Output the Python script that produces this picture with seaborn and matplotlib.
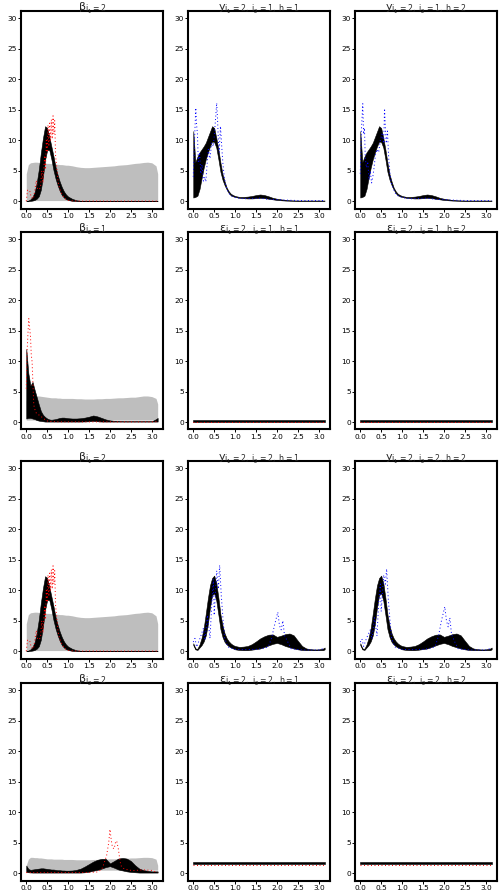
import matplotlib
matplotlib.use('Agg')
import matplotlib.pyplot as plt
import seaborn as sns

sns.set_style('white')
plt.rcParams['font.family'] = ['DejaVu Sans']
plt.rcParams['mathtext.fontset'] = 'dejavusans'
plt.rcParams['mathtext.default'] = 'regular'

# ---- data ----
# common frequency grid for the bands
X_BAND = [0.0, 0.05, 0.1, 0.15, 0.2, 0.25, 0.3, 0.35, 0.4, 0.45, 0.5, 0.55, 0.6, 0.65, 0.7, 0.75, 0.8, 0.85, 0.9, 0.95, 1.0,
          1.1, 1.2, 1.3, 1.4, 1.5, 1.6, 1.7, 1.8, 1.9, 2.0, 2.1, 2.2, 2.3, 2.4, 2.5, 2.6, 2.7, 2.8, 2.9, 3.0, 3.1,
          3.14]

# beta_{i1=2}
A_HI = [0.0, 0.1, 0.3, 0.7, 1.5, 3.0, 5.2, 8.0, 10.4, 12.3, 12.0, 10.6, 9.0, 7.4, 5.6, 4.3, 3.2, 2.3, 1.6, 1.1, 0.76,
        0.38, 0.15, 0.06, 0.03, 0.03, 0.03, 0.03, 0.03, 0.03, 0.03, 0.03, 0.03, 0.03, 0.03, 0.03, 0.03, 0.03, 0.03, 0.03, 0.03, 0.03,
        0.03]
A_LO = [0.0, 0.02, 0.05, 0.1, 0.2, 0.4, 0.8, 1.9, 4.1, 6.8, 8.4, 8.4, 6.9, 5.1, 3.7, 2.6, 1.7, 1.0, 0.6, 0.35, 0.2,
        0.05, 0.01, 0.01, 0.01, 0.01, 0.01, 0.01, 0.01, 0.01, 0.01, 0.01, 0.01, 0.01, 0.01, 0.01, 0.01, 0.01, 0.01, 0.01, 0.01, 0.01,
        0.01]
A_GRAY_HI = [4.5, 6.0, 6.3, 6.35, 6.4, 6.4, 6.35, 6.3, 6.3, 6.25, 6.2, 6.2, 6.15, 6.1, 6.1, 6.05, 6.0, 6.0, 5.95, 5.9, 5.9,
             5.8, 5.65, 5.55, 5.5, 5.5, 5.55, 5.6, 5.65, 5.7, 5.75, 5.8, 5.9, 5.95, 6.0, 6.1, 6.2, 6.25, 6.35, 6.4, 6.3, 5.8,
             4.5]
A_GRAY_LO = 0.1
RED_A_X = [0.0, 0.03, 0.08, 0.12, 0.17, 0.2, 0.24, 0.27, 0.3, 0.34, 0.37, 0.4, 0.42, 0.44, 0.46, 0.48, 0.5, 0.52, 0.54, 0.56,
           0.58, 0.6, 0.62, 0.64, 0.66, 0.68, 0.7, 0.73, 0.76, 0.8, 0.85, 0.9, 0.95, 1.0, 1.1, 1.2, 1.5, 2.0, 2.5, 3.0, 3.14]
RED_A_Y = [0.0, 1.8, 1.8, 0.6, 0.4, 1.6, 3.4, 2.0, 1.9, 2.2, 5.0, 3.0, 5.5, 7.5, 5.2, 10.0, 8.0, 12.5, 9.0, 12.8,
           10.0, 13.4, 10.2, 14.0, 11.0, 13.2, 7.5, 5.5, 3.2, 2.0, 1.2, 0.6, 0.3, 0.15, 0.05, 0.02, 0.02, 0.02, 0.02, 0.02, 0.02]

# beta_{i2=1}
B_HI = [12.0, 8.0, 6.0, 6.6, 5.3, 4.1, 2.9, 1.8, 1.2, 0.85, 0.6, 0.45, 0.4, 0.45, 0.5, 0.6, 0.7, 0.75, 0.75, 0.7, 0.65,
        0.6, 0.6, 0.65, 0.75, 0.9, 1.1, 0.95, 0.7, 0.45, 0.3, 0.22, 0.18, 0.15, 0.15, 0.15, 0.15, 0.15, 0.15, 0.15, 0.15, 0.5,
        0.7]
B_LO = [0.6, 0.7, 0.7, 0.6, 0.5, 0.35, 0.25, 0.2, 0.15, 0.1, 0.1, 0.1, 0.1, 0.1, 0.1, 0.1, 0.1, 0.1, 0.1, 0.1, 0.1,
        0.1, 0.1, 0.1, 0.12, 0.15, 0.2, 0.15, 0.1, 0.1, 0.1, 0.1, 0.1, 0.1, 0.1, 0.1, 0.1, 0.1, 0.1, 0.1, 0.1, 0.1,
        0.1]
B_GRAY_HI = [3.5, 4.2, 4.3, 4.3, 4.3, 4.3, 4.3, 4.25, 4.2, 4.15, 4.1, 4.05, 4.0, 4.0, 4.0, 3.95, 3.95, 3.9, 3.9, 3.9, 3.9,
             3.9, 3.85, 3.85, 3.8, 3.8, 3.8, 3.85, 3.85, 3.9, 3.9, 3.95, 4.0, 4.0, 4.05, 4.1, 4.1, 4.2, 4.3, 4.3, 4.2, 3.9,
             3.0]
B_GRAY_LO = 0.35
RED_B_X = [0.0, 0.02, 0.04, 0.06, 0.08, 0.1, 0.12, 0.14, 0.16, 0.18, 0.21, 0.24, 0.28, 0.32, 0.36, 0.4, 0.45, 0.5, 0.6,
           0.8, 1.0, 1.5, 2.0, 2.5, 3.0, 3.14]
RED_B_Y = [5.5, 11.5, 14.5, 17.0, 15.5, 14.2, 11.0, 9.9, 6.1, 2.8, 2.0, 1.5, 1.3, 1.1, 0.9, 0.7, 0.4, 0.2, 0.1,
           0.05, 0.05, 0.05, 0.05, 0.05, 0.05, 0.1]

# y_{i1=2, i2=1}
C_HI = [11.5, 6.4, 7.3, 8.0, 8.5, 9.0, 9.6, 10.5, 11.4, 12.3, 12.0, 10.4, 8.5, 6.3, 4.4, 3.2, 2.2, 1.6, 1.2, 1.0, 0.85,
        0.7, 0.7, 0.75, 0.85, 1.0, 1.1, 1.0, 0.8, 0.55, 0.4, 0.3, 0.2, 0.15, 0.12, 0.1, 0.1, 0.1, 0.1, 0.1, 0.1, 0.1,
        0.1]
C_LO = [0.6, 0.7, 0.9, 2.0, 3.8, 5.5, 6.9, 8.0, 9.0, 9.8, 9.7, 8.8, 6.9, 4.8, 3.5, 2.6, 1.9, 1.3, 0.95, 0.8, 0.7,
        0.55, 0.5, 0.45, 0.45, 0.5, 0.55, 0.5, 0.4, 0.3, 0.2, 0.15, 0.1, 0.08, 0.08, 0.08, 0.08, 0.08, 0.08, 0.08, 0.08, 0.08,
        0.08]
BLUE_C_X = [0.0, 0.03, 0.06, 0.08, 0.1, 0.12, 0.15, 0.18, 0.21, 0.24, 0.27, 0.3, 0.33, 0.36, 0.4, 0.44, 0.48, 0.52, 0.56, 0.58,
            0.6, 0.62, 0.65, 0.68, 0.71, 0.74, 0.78, 0.84, 0.9, 1.0, 1.2, 1.4, 1.6, 1.8, 2.0, 2.3, 2.6, 3.0, 3.14]
BLUE_C_H1 = [4.0, 10.0, 15.3, 12.5, 11.0, 6.5, 8.0, 4.5, 6.0, 3.3, 4.0, 3.2, 6.0, 8.5, 7.0, 9.6, 9.0, 12.3, 16.1, 13.4,
             10.0, 8.0, 12.3, 9.0, 6.0, 4.0, 2.5, 1.4, 0.9, 0.6, 0.4, 0.45, 0.5, 0.3, 0.25, 0.15, 0.1, 0.1, 0.1]
BLUE_C_H2 = [4.5, 12.0, 16.0, 11.0, 12.0, 7.0, 5.5, 6.5, 3.5, 5.0, 3.0, 4.0, 5.5, 7.5, 8.5, 8.0, 10.0, 11.0, 9.5, 15.2,
             12.0, 9.5, 11.5, 7.0, 4.5, 3.0, 2.2, 1.3, 0.9, 0.6, 0.4, 0.45, 0.5, 0.3, 0.25, 0.15, 0.1, 0.1, 0.1]

# y_{i1=2, i2=2}
D_HI = [1.3, 0.45, 0.4, 1.1, 2.2, 3.8, 6.2, 8.7, 10.8, 12.0, 12.4, 11.2, 8.8, 6.0, 4.2, 2.9, 2.1, 1.6, 1.25, 1.0, 0.85,
        0.7, 0.75, 0.85, 1.15, 1.6, 2.1, 2.45, 2.7, 2.75, 2.35, 2.55, 2.8, 2.9, 2.6, 1.7, 0.85, 0.45, 0.33, 0.28, 0.3, 0.43,
        0.6]
D_LO = [1.0, 0.3, 0.2, 0.6, 1.0, 1.6, 2.6, 4.5, 7.2, 9.2, 9.5, 8.3, 6.0, 3.6, 2.3, 1.5, 1.1, 0.8, 0.6, 0.45, 0.3,
        0.2, 0.16, 0.16, 0.25, 0.35, 0.45, 0.7, 0.95, 1.2, 1.35, 1.15, 0.85, 0.65, 0.45, 0.3, 0.2, 0.16, 0.16, 0.16, 0.16, 0.16,
        0.3]
BLUE_D_X = [0.0, 0.04, 0.08, 0.16, 0.24, 0.28, 0.34, 0.4, 0.44, 0.48, 0.5, 0.56, 0.6, 0.63, 0.67, 0.71, 0.75, 0.83, 1.0, 1.2,
            1.5, 1.7, 1.79, 1.87, 1.94, 2.02, 2.06, 2.1, 2.14, 2.18, 2.26, 2.34, 2.6, 3.0, 3.14]
BLUE_D_H1 = [1.5, 2.1, 0.7, 2.1, 3.7, 1.8, 5.9, 2.1, 7.5, 11.8, 5.9, 13.2, 10.2, 14.1, 9.1, 5.3, 2.1, 0.7, 0.3, 0.25,
             0.3, 0.5, 0.7, 2.1, 4.2, 6.4, 4.2, 3.5, 5.0, 2.6, 1.5, 0.4, 0.2, 0.2, 0.5]
BLUE_D_H2 = [1.5, 2.0, 0.8, 2.3, 3.5, 2.0, 5.5, 2.5, 8.0, 11.0, 6.5, 12.5, 11.0, 13.5, 8.5, 5.0, 2.0, 0.7, 0.3, 0.25,
             0.3, 0.5, 0.8, 2.5, 5.0, 7.3, 5.0, 4.0, 5.5, 2.8, 1.5, 0.4, 0.2, 0.2, 0.5]

# beta_{i2=2}
E_HI = [1.25, 0.7, 0.55, 0.6, 0.65, 0.7, 0.75, 0.8, 0.8, 0.75, 0.7, 0.65, 0.6, 0.6, 0.55, 0.5, 0.5, 0.45, 0.45, 0.43, 0.43,
        0.45, 0.55, 0.75, 1.1, 1.5, 1.9, 2.2, 2.35, 2.35, 1.6, 2.0, 2.4, 2.5, 2.4, 2.0, 1.3, 0.75, 0.5, 0.4, 0.3, 0.3,
        0.3]
E_LO = [0.2, 0.15, 0.12, 0.1, 0.1, 0.1, 0.1, 0.1, 0.1, 0.1, 0.1, 0.1, 0.1, 0.1, 0.1, 0.1, 0.1, 0.1, 0.1, 0.1, 0.1,
        0.1, 0.1, 0.1, 0.15, 0.25, 0.4, 0.55, 0.75, 1.0, 1.15, 0.9, 0.6, 0.45, 0.3, 0.2, 0.15, 0.1, 0.1, 0.1, 0.1, 0.1,
        0.1]
E_GRAY_HI = [1.3, 2.3, 2.6, 2.6, 2.55, 2.55, 2.5, 2.5, 2.45, 2.4, 2.35, 2.35, 2.35, 2.3, 2.3, 2.3, 2.3, 2.3, 2.25, 2.25, 2.25,
             2.25, 2.2, 2.2, 2.2, 2.2, 2.25, 2.25, 2.3, 2.3, 2.35, 2.35, 2.4, 2.45, 2.45, 2.5, 2.5, 2.55, 2.6, 2.6, 2.55, 2.3,
             1.3]
E_GRAY_LO = 0.5
RED_E_X = [0.0, 0.5, 1.0, 1.5, 1.7, 1.8, 1.84, 1.92, 1.97, 2.0, 2.03, 2.06, 2.1, 2.13, 2.16, 2.2, 2.23, 2.26, 2.32, 2.45,
           2.56, 2.7, 2.8, 3.0, 3.14]
RED_E_Y = [0.1, 0.1, 0.1, 0.12, 0.2, 0.6, 1.25, 2.9, 5.0, 7.2, 5.5, 4.2, 4.0, 5.0, 5.3, 4.0, 2.5, 1.25, 0.8, 0.5,
           0.43, 0.5, 0.54, 0.45, 0.1]

# epsilon panels (flat)
EPS_X = [0.0, 3.14]
EPS1_LO = [0.02, 0.02]
EPS1_HI = [0.3, 0.3]
EPS1_RED = [0.02, 0.02]
EPS2_LO = [1.45, 1.45]
EPS2_HI = [1.85, 1.85]
EPS2_RED = [1.3, 1.3]

TITLES = [
    [r'$\beta_{i_1=2}$', r'$y_{i_1=2,\ i_2=1,\ h=1}$', r'$y_{i_1=2,\ i_2=1,\ h=2}$'],
    [r'$\beta_{i_2=1}$', r'$\varepsilon_{i_1=2,\ i_2=1,\ h=1}$', r'$\varepsilon_{i_1=2,\ i_2=1,\ h=2}$'],
    [r'$\beta_{i_1=2}$', r'$y_{i_1=2,\ i_2=2,\ h=1}$', r'$y_{i_1=2,\ i_2=2,\ h=2}$'],
    [r'$\beta_{i_2=2}$', r'$\varepsilon_{i_1=2,\ i_2=2,\ h=1}$', r'$\varepsilon_{i_1=2,\ i_2=2,\ h=2}$'],
]

GRAY = '#BEBEBE'

# ---- layout (pixel boxes) ----
W, H = 502, 893
COL_LEFT = [21, 188, 355]
ROW_TOP = [11, 232, 461, 683]
BOX_W, BOX_H = 142, 197.5

fig = plt.figure(figsize=(W / 100, H / 100), dpi=100)
axes = []
for r in range(4):
    row = []
    for c in range(3):
        ax = fig.add_axes([COL_LEFT[c] / W, 1 - (ROW_TOP[r] + BOX_H) / H, BOX_W / W, BOX_H / H])
        row.append(ax)
    axes.append(row)


def band(ax, lo, hi, x=X_BAND, gray_lo=None, gray_hi=None):
    if gray_hi is not None:
        ax.fill_between(x, gray_lo, gray_hi, color=GRAY, lw=0, zorder=1)
    ax.fill_between(x, lo, hi, color='black', lw=0.4, edgecolor='black', zorder=2)


def dotted(ax, x, y, color):
    sns.lineplot(x=x, y=y, ax=ax, color=color, lw=0.7, zorder=3,
                 dashes=False, linestyle=(0, (1, 2.6)))


# row 1
band(axes[0][0], A_LO, A_HI, gray_lo=A_GRAY_LO, gray_hi=A_GRAY_HI)
dotted(axes[0][0], RED_A_X, RED_A_Y, 'red')
band(axes[0][1], C_LO, C_HI)
dotted(axes[0][1], BLUE_C_X, BLUE_C_H1, 'blue')
band(axes[0][2], C_LO, C_HI)
dotted(axes[0][2], BLUE_C_X, BLUE_C_H2, 'blue')

# row 2
band(axes[1][0], B_LO, B_HI, gray_lo=B_GRAY_LO, gray_hi=B_GRAY_HI)
dotted(axes[1][0], RED_B_X, RED_B_Y, 'red')
for c in (1, 2):
    band(axes[1][c], EPS1_LO, EPS1_HI, x=EPS_X)
    dotted(axes[1][c], EPS_X, EPS1_RED, 'red')

# row 3
band(axes[2][0], A_LO, A_HI, gray_lo=A_GRAY_LO, gray_hi=A_GRAY_HI)
dotted(axes[2][0], RED_A_X, RED_A_Y, 'red')
band(axes[2][1], D_LO, D_HI)
dotted(axes[2][1], BLUE_D_X, BLUE_D_H1, 'blue')
band(axes[2][2], D_LO, D_HI)
dotted(axes[2][2], BLUE_D_X, BLUE_D_H2, 'blue')

# row 4
band(axes[3][0], E_LO, E_HI, gray_lo=E_GRAY_LO, gray_hi=E_GRAY_HI)
dotted(axes[3][0], RED_E_X, RED_E_Y, 'red')
for c in (1, 2):
    band(axes[3][c], EPS2_LO, EPS2_HI, x=EPS_X)
    dotted(axes[3][c], EPS_X, EPS2_RED, 'red')

# cosmetics
for r in range(4):
    for c in range(3):
        ax = axes[r][c]
        ax.set_xlim(-0.1257, 3.2673)
        ax.set_ylim(-1.2, 31.2)
        ax.set_xticks([0, 0.5, 1, 1.5, 2, 2.5, 3])
        ax.set_xticklabels(['0.0', '0.5', '1.0', '1.5', '2.0', '2.5', '3.0'])
        ax.set_yticks([0, 5, 10, 15, 20, 25, 30])
        ax.set_xlabel('')
        ax.set_ylabel('')
        ax.tick_params(direction='out', length=2.4, width=0.7, pad=0.6,
                       labelsize=5.3, colors='black', bottom=True, left=True)
        for s in ax.spines.values():
            s.set_linewidth(1.5)
            s.set_color('black')
        ax.set_title(TITLES[r][c], fontsize=8, pad=0.2)

fig.savefig('out.png', dpi=100)
